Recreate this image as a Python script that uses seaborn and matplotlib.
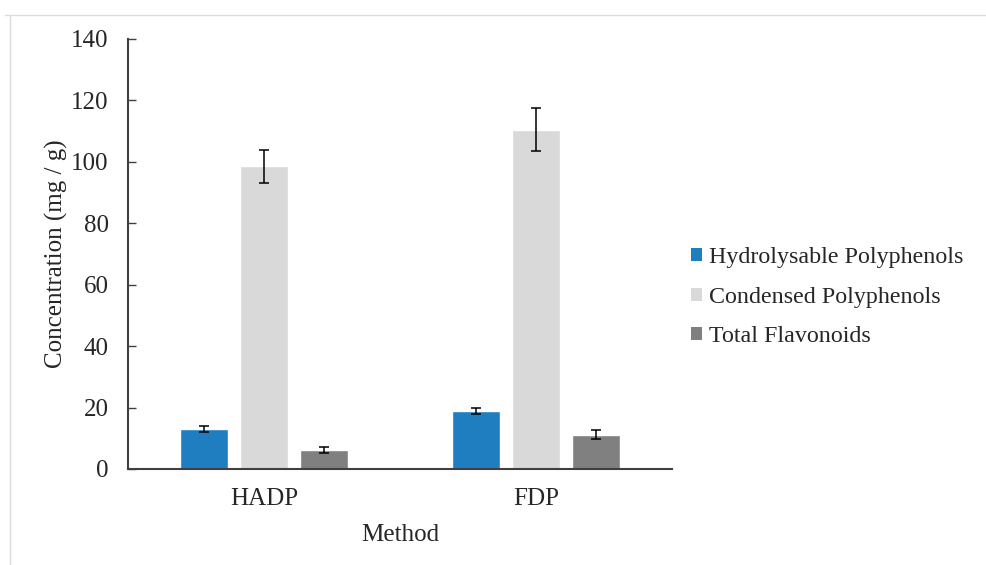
import matplotlib
matplotlib.use("Agg")
import matplotlib.pyplot as plt
import seaborn as sns
import pandas as pd
import numpy as np
from matplotlib.lines import Line2D
from matplotlib.patches import Patch

methods = ["HADP", "FDP"]
series = ["Hydrolysable Polyphenols", "Condensed Polyphenols", "Total Flavonoids"]
hydrolysable = [13.0, 18.8]
condensed = [98.5, 110.5]
flavonoids = [6.3, 11.2]
hydrolysable_err = [1.0, 0.9]
condensed_err = [5.5, 7.0]
flavonoids_err = [1.0, 1.4]
colors = ["#1f7ec0", "#d9d9d9", "#808080"]

rows = []
for s, vals in zip(series, [hydrolysable, condensed, flavonoids]):
    for m, v in zip(methods, vals):
        rows.append({"Method": m, "Series": s, "Value": v})
df = pd.DataFrame(rows)
errs = [hydrolysable_err, condensed_err, flavonoids_err]

sns.set_theme(style="white")
plt.rcParams["font.family"] = ["Liberation Serif", "DejaVu Serif"]

fig = plt.figure(figsize=(9.87, 5.65), dpi=100)
ax = fig.add_axes([0.1297, 0.170, 0.681 - 0.1297, 0.931 - 0.170])

sns.barplot(data=df, x="Method", y="Value", hue="Series", order=methods,
            hue_order=series, palette=colors, width=0.66, gap=0.2,
            errorbar=None, saturation=1, ax=ax, legend=False)

for cont, e in zip(ax.containers, errs):
    xs = [b.get_x() + b.get_width() / 2 for b in cont]
    ys = [b.get_height() for b in cont]
    ax.errorbar(xs, ys, yerr=e, fmt="none", ecolor="black", elinewidth=1.1,
                capsize=3.6, capthick=1.1)

ax.set_xlim(-0.5, 1.5)
ax.set_ylim(0, 140)
ax.set_yticks(range(0, 141, 20))
ax.tick_params(axis="y", direction="in", length=6, width=1.0, color="#404040",
               labelsize=18, pad=14, left=True)
ax.tick_params(axis="x", length=0, labelsize=18, pad=14)
for s in ["top", "right"]:
    ax.spines[s].set_visible(False)
for s in ["left", "bottom"]:
    ax.spines[s].set_color("#404040")
    ax.spines[s].set_linewidth(1.5)
ax.set_xlabel("Method", fontsize=18, labelpad=10)
ax.set_ylabel("Concentration (mg / g)", fontsize=18, labelpad=2)

handles = [Patch(facecolor=c, edgecolor="none") for c in colors]
fig.legend(handles, series, loc="center left", bbox_to_anchor=(0.678, 0.474),
           frameon=False, fontsize=17.3, handlelength=0.45, handleheight=0.45,
           handletextpad=0.3, labelspacing=0.78)

fig.add_artist(Line2D([5 / 987, 1], [1 - 15 / 565, 1 - 15 / 565],
                      transform=fig.transFigure, color="#dcdcdc", lw=1))
fig.add_artist(Line2D([10 / 987, 10 / 987], [0, 1 - 15 / 565],
                      transform=fig.transFigure, color="#dcdcdc", lw=1))

fig.savefig("out.png", dpi=100)
